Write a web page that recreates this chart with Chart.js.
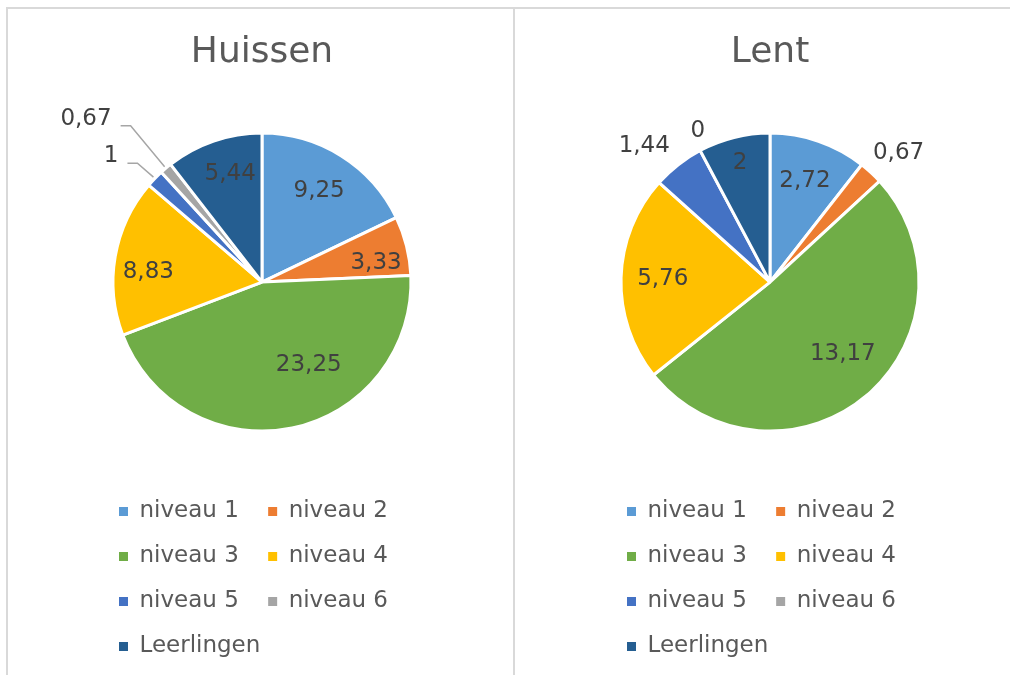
<!DOCTYPE html>
<html lang="nl">
<head>
<meta charset="utf-8">
<title>Huissen / Lent</title>
<script src="https://cdn.jsdelivr.net/npm/chart.js@4"></script>
<style>
  html, body { margin: 0; padding: 0; background: #fff; }
  #wrap { position: relative; width: 1010px; height: 675px; overflow: hidden; }
  .lijn { position: absolute; background: #D9D9D9; }
  .vak { position: absolute; top: 8px; width: 400px; height: 660px; }
</style>
</head>
<body>
<div id="wrap">
  <div class="lijn" style="left:6px; top:7px; width:1004px; height:2px;"></div>
  <div class="lijn" style="left:6px; top:7px; width:2px; height:668px;"></div>
  <div class="lijn" style="left:513px; top:7px; width:2px; height:668px;"></div>
  <div class="vak" style="left:62px;"><canvas id="grafiekHuissen"></canvas></div>
  <div class="vak" style="left:570px;"><canvas id="grafiekLent"></canvas></div>
</div>
<script>
// gegevens
const categorieen = ['niveau 1', 'niveau 2', 'niveau 3', 'niveau 4', 'niveau 5', 'niveau 6', 'Leerlingen'];
const waardenHuissen = [9.25, 3.33, 23.25, 8.83, 1, 0.67, 5.44];
const waardenLent = [2.72, 0.67, 13.17, 5.76, 1.44, 0, 2];
const kleuren = ['#5B9BD5', '#ED7D31', '#70AD47', '#FFC000', '#4472C4', '#A5A5A5', '#255E91'];

const lettertype = '"DejaVu Sans", Verdana, sans-serif';

// labels op de taartpunten (binnen, buiten of met verbindingslijn)
const puntLabels = {
  id: 'puntLabels',
  afterDatasetsDraw(chart, args, opts) {
    const ctx = chart.ctx;
    const meta = chart.getDatasetMeta(0);
    const waarden = chart.data.datasets[0].data;
    const totaal = waarden.reduce((a, b) => a + b, 0);
    ctx.save();
    ctx.font = '23px ' + lettertype;
    ctx.fillStyle = '#404040';
    ctx.textBaseline = 'middle';
    meta.data.forEach((arc, i) => {
      const p = arc.getProps(['x', 'y', 'startAngle', 'endAngle', 'outerRadius'], true);
      const mid = (p.startAngle + p.endAngle) / 2;
      const cos = Math.cos(mid), sin = Math.sin(mid);
      const tekst = String(waarden[i]).replace('.', ',');
      const lijn = opts.lijnen && opts.lijnen[i];
      const duw = (opts.duwen && opts.duwen[i]) || [0, 0];

      if (lijn) {
        const ax = p.x + cos * (p.outerRadius + 2);
        const ay = p.y + sin * (p.outerRadius + 2);
        const bx = ax + lijn[0], by = ay + lijn[1];
        ctx.strokeStyle = '#A6A6A6';
        ctx.lineWidth = 1.5;
        ctx.beginPath();
        ctx.moveTo(ax, ay);
        ctx.lineTo(bx, by);
        ctx.lineTo(bx - 10, by);
        ctx.stroke();
        ctx.textAlign = 'right';
        ctx.fillText(tekst, bx - 19, by - 7);
      } else if (waarden[i] / totaal < 0.06) {
        const w = ctx.measureText(tekst).width;
        const r = p.outerRadius + 15;
        ctx.textAlign = 'center';
        ctx.fillText(tekst, p.x + cos * r + cos * w / 2 + duw[0], p.y + sin * r + sin * 11 + duw[1]);
      } else {
        const r = p.outerRadius * 0.72;
        ctx.textAlign = 'center';
        ctx.fillText(tekst, p.x + cos * r + duw[0], p.y + sin * r + duw[1]);
      }
    });
    ctx.restore();
  }
};

// legenda zonder witte rand om de blokjes, iets ruimere kolommen
function legendaItems(chart) {
  const items = Chart.overrides.pie.plugins.legend.labels.generateLabels(chart);
  return items.map(item => Object.assign(item, { lineWidth: 0, text: item.text + ' ' }));
}

function maakTaart(id, titel, waarden, labelOpties) {
  const ctx = document.getElementById(id).getContext('2d');
  return new Chart(ctx, {
    type: 'pie',
    data: {
      labels: categorieen,
      datasets: [{
        data: waarden,
        backgroundColor: kleuren,
        borderColor: '#FFFFFF',
        borderWidth: 3,
        radius: 149
      }]
    },
    options: {
      responsive: true,
      maintainAspectRatio: false,
      animation: false,
      layout: { padding: { left: 35, right: 35, top: 0, bottom: 0 } },
      plugins: {
        title: {
          display: true,
          text: titel,
          color: '#595959',
          font: { family: lettertype, size: 36, weight: 'normal' },
          padding: { top: 23, bottom: 12 }
        },
        legend: {
          position: 'bottom',
          align: 'start',
          labels: {
            boxWidth: 9,
            boxHeight: 9,
            padding: 22,
            color: '#595959',
            font: { family: lettertype, size: 23 },
            generateLabels: legendaItems
          }
        },
        tooltip: { enabled: false },
        puntLabels: labelOpties
      }
    },
    plugins: [puntLabels]
  });
}

maakTaart('grafiekHuissen', 'Huissen', waardenHuissen, {
  lijnen: { 4: [-16, -14], 5: [-34, -41] },
  duwen: { 1: [10, 7], 2: [25, -22], 3: [-8, 8], 6: [3, -7] }
});
maakTaart('grafiekLent', 'Lent', waardenLent, {
  duwen: { 2: [3, -10], 4: [-9, 2], 5: [8, 4], 6: [-4, -15] }
});
</script>
</body>
</html>
